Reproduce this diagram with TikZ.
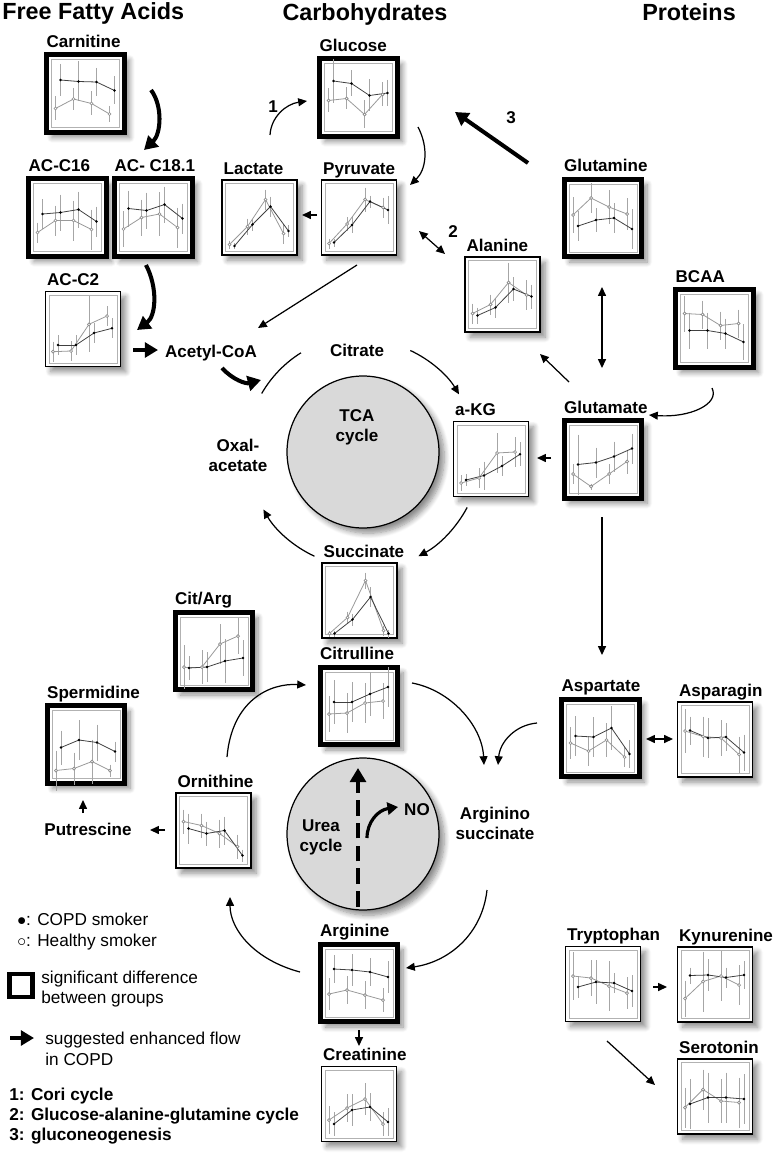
\documentclass[tikz,border=0pt]{standalone}
\usepackage{fontspec}
\setmainfont{Liberation Sans}
\usetikzlibrary{arrows.meta,shadows.blur,calc}

\tikzstyle{heading} = [font=\fontsize{13.3}{15}\selectfont\bfseries]
\tikzstyle{lbl} = [font=\fontsize{9.7}{11.3}\selectfont\bfseries, align=center]
\tikzstyle{keytext} = [font=\fontsize{9.8}{11.4}\selectfont, anchor=base west]
\tikzstyle{plainbox} = [rectangle, draw, line width=0.8pt, fill=white, minimum size=1.5cm, blur shadow={shadow xshift=3pt, shadow yshift=-3pt, shadow blur radius=3pt, shadow blur steps=8, shadow opacity=45}]
\tikzstyle{sigbox} = [plainbox, line width=2.8pt, minimum size=1.55cm]
\tikzstyle{cyc} = [circle, draw, line width=0.7pt, fill=black!15, minimum size=3.04cm, blur shadow={shadow xshift=3pt, shadow yshift=-3pt, shadow blur radius=3pt, shadow blur steps=8, shadow opacity=45}]
\tikzstyle{chartframe} = [draw=black!30, line width=0.5pt]
\tikzstyle{ebar} = [draw=black!35, line width=0.4pt]
\tikzstyle{healthyline} = [draw=black!40, line width=0.45pt]
\tikzstyle{copdline} = [draw=black!75, line width=0.45pt]
\tikzstyle{healthydot} = [draw=black!45, fill=white, line width=0.4pt]
\tikzstyle{copddot} = [fill=black]
\tikzstyle{flow} = [-{Triangle[length=5pt,width=4.5pt]}, line width=0.7pt]
\tikzstyle{twoway} = [{Triangle[length=5pt,width=4.5pt]}-{Triangle[length=5pt,width=4.5pt]}, line width=0.7pt]
\tikzstyle{boost} = [-{Triangle[length=7.5pt,width=8.5pt]}, line width=2.3pt]

% small plot inside a box: #1 box, #2 COPD values y/err, #3 healthy values y/err
\newcommand{\minichart}[3]{%
  \begin{scope}[shift={(#1.center)}]
    \draw[chartframe] (-34,-34) rectangle (34,34);
    \foreach \v/\e [count=\i] in {#3}
      \draw[ebar] ({18*\i-48},{\v-\e}) -- ({18*\i-48},{\v+\e});
    \foreach \v/\e [count=\i] in {#2}
      \draw[ebar] ({18*\i-43},{\v-\e}) -- ({18*\i-43},{\v+\e});
    \foreach \v/\e [count=\i, remember=\v as \u (initially 0)] in {#3}
      {\ifnum\i>1 \draw[healthyline] ({18*\i-66},\u) -- ({18*\i-48},\v);\fi}
    \foreach \v/\e [count=\i, remember=\v as \u (initially 0)] in {#2}
      {\ifnum\i>1 \draw[copdline] ({18*\i-61},\u) -- ({18*\i-43},\v);\fi}
    \foreach \v/\e [count=\i] in {#3}
      \draw[healthydot] ({18*\i-48},\v) circle [radius=1.5];
    \foreach \v/\e [count=\i] in {#2}
      \fill[copddot] ({18*\i-43},\v) circle [radius=1.4];
  \end{scope}}

\begin{document}
\begin{tikzpicture}[x=0.02cm, y=-0.02cm, every node/.style={inner sep=0pt}]
\useasboundingbox (0,0) rectangle (774,1166);

% headings
\node[heading, anchor=base west] (ffa) at (2,20) {Free Fatty Acids};
\node[heading, anchor=base] (carb) at (365,21) {Carbohydrates};
\node[heading, anchor=base] (prot) at (689,21) {Proteins};

% cycles
\node[cyc] (tca) at (363,452) {};
\node[cyc] (urea) at (363,834) {};
\node[lbl] (tcatext) at (357,427) {TCA\\cycle};
\node[lbl] (ureatext) at (321,837) {Urea\\cycle};

% boxes
\node[sigbox] (carnitine) at (85.5,93.5) {};
\node[sigbox] (acc16) at (67.5,217.5) {};
\node[sigbox] (acc181) at (153.5,217.5) {};
\node[plainbox] (acc2) at (83,329) {};
\node[sigbox] (glucose) at (358.5,97.5) {};
\node[plainbox] (lactate) at (259.5,217.5) {};
\node[plainbox] (pyruvate) at (359,217.5) {};
\node[sigbox] (glutamine) at (603,218) {};
\node[plainbox] (alanine) at (502.5,294.5) {};
\node[sigbox] (bcaa) at (714.5,328.5) {};
\node[sigbox] (glutamate) at (603,459.5) {};
\node[plainbox] (akg) at (491,459) {};
\node[plainbox] (succinate) at (359.5,600.5) {};
\node[sigbox] (citarg) at (214,651) {};
\node[sigbox] (spermidine) at (86,744.5) {};
\node[sigbox] (citrulline) at (359,706) {};
\node[plainbox] (ornithine) at (213.5,830.5) {};
\node[sigbox] (aspartate) at (600.5,738) {};
\node[plainbox] (asparagin) at (715,739.5) {};
\node[sigbox] (arginine) at (359,983) {};
\node[plainbox] (creatinine) at (359,1104) {};
\node[plainbox] (tryptophan) at (603,984) {};
\node[plainbox] (kynurenine) at (715,984.5) {};
\node[plainbox] (serotonin) at (715,1096.5) {};

% box titles
\foreach \b/\t in {carnitine/Carnitine, acc16/AC-C16, acc181/AC- C18.1, acc2/AC-C2,
  glucose/Glucose, lactate/Lactate, pyruvate/Pyruvate, glutamine/Glutamine,
  alanine/Alanine, bcaa/BCAA, glutamate/Glutamate, akg/a-KG, succinate/Succinate,
  citarg/Cit\slash Arg, spermidine/Spermidine, citrulline/Citrulline, ornithine/Ornithine,
  aspartate/Aspartate, asparagin/Asparagin, arginine/Arginine, creatinine/Creatinine,
  tryptophan/Tryptophan, kynurenine/Kynurenine, serotonin/Serotonin}
  \node[lbl, anchor=base west] (\b lbl) at ($(\b.north west)+(2,-5)$) {\t};

% plots
\minichart{carnitine}{-13.5/16,-12/20,-11.5/14,-3/14}{15/12,5.5/11,10/12,20.5/8}
\minichart{acc16}{-3.5/15,-5/18,-8/18,4/15}{15/10,3/15,3/20,12/20}
\minichart{acc181}{-9/18,-7/18,-13/18,1/15}{11.5/18,0/18,-3.5/22,10/20}
\minichart{acc2}{16/10,16/10,4/10,-0.7/10}{22.7/10,22/10,-4.7/28,-13/10}
\minichart{glucose}{-16.5/22,-14/13,-2/16,-4.5/13}{3/12,1/11,17/14,-3/12}
\minichart{lactate}{28.5/3,7/6,-11/10,13.5/6}{27/4,9/8,-18/10,16/10}
\minichart{pyruvate}{25/4,7.5/8,-16/6,-7.5/14}{26/5,6.5/7,-18/12,-10/10}
\minichart{glutamine}{8/15,2/12,0/15,11/20}{-3/18,-20/15,-11/17,-4/16}
\minichart{alanine}{21/8,13/10,-5.5/12,2/12}{19/10,10/10,-12/20,0.5/15}
\minichart{bcaa}{2/18,2/18,5/15,13.5/18}{-15/18,-14/14,-3/14,-5/14}
\minichart{glutamate}{5/30,3/15,-3/15,-11/15}{14.5/10,27/3,14.5/10,2/12}
\minichart{akg}{21/6,16.5/14,7/10,-4.7/12}{24/8,19/10,-6/20,-7/15}
\minichart{succinate}{33/3,19/6,-3.5/10,33/4}{33/3,17/6,-20/8,30/5}
\minichart{citarg}{17/12,16/15,10/22,7/18}{16/22,16/17,-7/20,-15/18}
\minichart{spermidine}{3/17,-4.5/20,-2/18,7/10}{26/20,24/16,17/22,26/6}
\minichart{citrulline}{-4/22,-4/20,-12/22,-19/20}{8/18,7/20,-3/20,-5/18}
\minichart{ornithine}{-2/15,3/12,0/14,25/6}{-9/12,-5/12,3/14,16/12}
\minichart{aspartate}{-2/20,-1/20,-10/22,16/14}{5/16,13/15,2/17,19/10}
\minichart{asparagin}{-9/14,-1.5/20,-2.5/14,13/18}{-8.5/22,-3/20,-1.5/18,15/18}
\minichart{arginine}{-14/14,-13/16,-11/14,-6/16}{11/16,7/14,12/14,17/12}
\minichart{creatinine}{20/12,6/16,3/14,18/14}{16/14,4/14,-5/16,20/12}
\minichart{tryptophan}{3/11,-2/22,-1/10,7/16}{-8/24,-6/18,2/25,9/16}
\minichart{kynurenine}{-9/8,-9.5/16,-7/10,-9.5/14}{14/18,-3/30,-8.5/25,0.5/20}
\minichart{serotonin}{7.5/25,1/25,1/25,2.5/25}{11/20,-7/20,4.5/22,6/25}

% free labels
\node[lbl] (acetylcoa) at (211,353) {Acetyl-CoA};
\node[lbl] (citrate) at (357,350) {Citrate};
\node[lbl] (oxal) at (238,455) {Oxal-\\acetate};
\node[lbl] (argsucc) at (495,823) {Arginino\\succinate};
\node[lbl] (putrescine) at (88,829) {Putrescine};
\node[lbl] (no) at (417,810) {NO};
\node[lbl] (one) at (273,107) {1};
\node[lbl] (two) at (453,232) {2};
\node[lbl] (three) at (511,118) {3};

% connector ends
\coordinate (carnout) at (151,90);   \coordinate (acylin) at (144,150);
\coordinate (acylout) at (146,265);  \coordinate (acc2in) at (137,330);
\coordinate (acc2out) at (133,350);  \coordinate (acoain) at (158,350);
\coordinate (acoaout) at (222,368);  \coordinate (tcain) at (261,380);
\coordinate (coriout) at (270,135);  \coordinate (coriin) at (307,101);
\coordinate (glcout) at (418,127);   \coordinate (pyrin) at (410,185);
\coordinate (pyrout) at (317,215);   \coordinate (lacin) at (302,215);
\coordinate (pyrala) at (419,231);   \coordinate (alapyr) at (445,254);
\coordinate (pyrdown) at (357,265);  \coordinate (acoatop) at (258,328);
\coordinate (gnout) at (528,163);    \coordinate (gnin) at (455,112);
\coordinate (glntop) at (602,287);   \coordinate (glubot) at (602,368);
\coordinate (bcaaout) at (712,388);  \coordinate (gluin) at (649,415);
\coordinate (glual) at (569,382);    \coordinate (alain) at (540,354);
\coordinate (gluakg) at (551,458);   \coordinate (akgin) at (537,458);
\coordinate (gludown) at (602,517);  \coordinate (aspin) at (602,655);
\coordinate (aspleft) at (646,739);  \coordinate (asnright) at (673,739);
\coordinate (aspout) at (537,723);   \coordinate (asin) at (498,765);
\coordinate (citout) at (412,683);   \coordinate (asin2) at (484,765);
\coordinate (asout) at (487,890);    \coordinate (argin) at (406,968);
\coordinate (argout) at (300,972);   \coordinate (ornin) at (230,897);
\coordinate (ornout) at (227,757);   \coordinate (citin) at (306,685);
\coordinate (ornput) at (165,830);   \coordinate (putin) at (150,830);
\coordinate (putout) at (83,813);    \coordinate (sperin) at (83,800);
\coordinate (argdown) at (359,1030); \coordinate (crein) at (359,1046);
\coordinate (trpout) at (653,987);   \coordinate (kynin) at (667,987);
\coordinate (trpdown) at (607,1041); \coordinate (serin) at (655,1085);
\coordinate (ureabot) at (358,907);  \coordinate (ureatop) at (358,768);
\coordinate (noout) at (367,838);    \coordinate (noin) at (398,807);

% fatty acid side
\draw[boost] (carnout) .. controls (163,106) and (161,134) .. (acylin);
\draw[boost] (acylout) .. controls (158,288) and (156,316) .. (acc2in);
\draw[boost] (acc2out) -- (acoain);
\draw[boost] (acoaout) .. controls (233,380) and (246,384) .. (tcain);

% carbohydrates
\draw[flow] (coriout) .. controls (271,117) and (286,104) .. (coriin);
\draw[flow] (glcout) .. controls (429,148) and (426,170) .. (pyrin);
\draw[flow] (pyrout) -- (lacin);
\draw[twoway] (pyrala) -- (alapyr);
\draw[flow] (pyrdown) -- (acoatop);
\draw[boost] (gnout) -- (gnin);

% TCA cycle
\draw[line width=0.7pt] (tca) ++(210:117) arc[start angle=210, end angle=238, radius=117];
\draw[flow] (tca) ++(295:112) arc[start angle=295, end angle=329, radius=112];
\draw[flow] (tca) ++(28:118) arc[start angle=28, end angle=62, radius=118];
\draw[flow] (tca) ++(115:115) arc[start angle=115, end angle=150, radius=115];

% amino acids
\draw[twoway] (glntop) -- (glubot);
\draw[flow] (bcaaout) .. controls (720,404) and (690,418) .. (gluin);
\draw[flow] (glual) -- (alain);
\draw[flow] (gluakg) -- (akgin);
\draw[flow] (gludown) -- (aspin);
\draw[twoway] (aspleft) -- (asnright);

% urea cycle
\draw[flow] (ornout) .. controls (232,700) and (270,683) .. (citin);
\draw[flow] (citout) .. controls (450,690) and (482,725) .. (asin2);
\draw[flow] (aspout) .. controls (515,725) and (500,742) .. (asin);
\draw[flow] (asout) .. controls (482,935) and (448,962) .. (argin);
\draw[flow] (argout) .. controls (255,960) and (230,930) .. (ornin);
\draw[line width=2.6pt, dash pattern=on 9pt off 4pt, -{Triangle[length=8pt,width=9pt]}] (ureabot) -- (ureatop);
\draw[line width=1.8pt, -{Triangle[length=6pt,width=7pt]}] (noout) .. controls (367,822) and (378,810) .. (noin);
\draw[flow] (ornput) -- (putin);
\draw[flow] (putout) -- (sperin);
\draw[flow] (argdown) -- (crein);

% tryptophan
\draw[flow] (trpout) -- (kynin);
\draw[flow] (trpdown) -- (serin);

% legend
\node[keytext] (kcopd) at (17,925) {$\bullet$: COPD smoker};
\node[keytext] (khealthy) at (17,946) {$\circ$: Healthy smoker};
\node[draw, line width=2.8pt, minimum size=0.46cm] (ksig) at (21,985.5) {};
\node[keytext] (ksigtext) at (41,983) {significant difference};
\node[keytext] (ksigtextb) at (41,1003) {between groups};
\coordinate (karrowa) at (10,1038); \coordinate (karrowb) at (34,1038);
\draw[boost] (karrowa) -- (karrowb);
\node[keytext] (kflow) at (45,1044) {suggested enhanced flow};
\node[keytext] (kflowb) at (45,1065) {in COPD};
\node[keytext, font=\fontsize{9.8}{11.4}\selectfont\bfseries] (kcori) at (9,1100) {1: Cori cycle};
\node[keytext, font=\fontsize{9.8}{11.4}\selectfont\bfseries] (kgag) at (9,1120) {2: Glucose-alanine-glutamine cycle};
\node[keytext, font=\fontsize{9.8}{11.4}\selectfont\bfseries] (kgng) at (9,1140) {3: gluconeogenesis};
\end{tikzpicture}
\end{document}
